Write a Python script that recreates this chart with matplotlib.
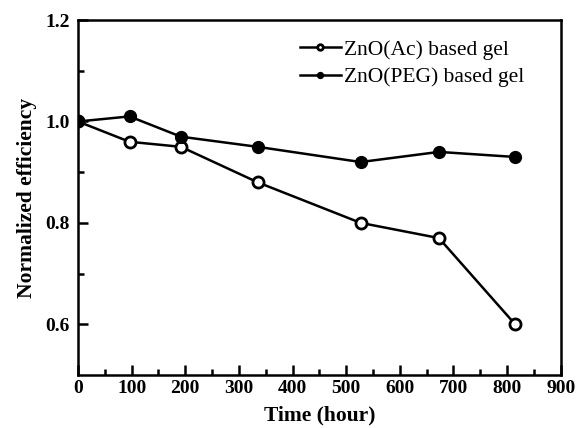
import matplotlib.pyplot as plt

time_ac = [0, 96, 192, 335, 527, 673, 815]
eff_ac = [1.0, 0.96, 0.95, 0.88, 0.80, 0.77, 0.60]
time_peg = [0, 96, 192, 335, 527, 673, 815]
eff_peg = [1.0, 1.01, 0.97, 0.95, 0.92, 0.94, 0.93]

plt.rcParams['font.family'] = ['Liberation Serif', 'DejaVu Serif']

fig = plt.figure(figsize=(5.78, 4.28), dpi=100)
ax = fig.add_axes([0.135, 0.124, 0.835, 0.829])

ax.plot(time_ac, eff_ac, color='k', lw=1.8, marker='o', ms=8,
        mfc='white', mec='k', mew=2, label='ZnO(Ac) based gel', zorder=3)
ax.plot(time_peg, eff_peg, color='k', lw=1.8, marker='o', ms=8.5,
        mfc='k', mec='k', label='ZnO(PEG) based gel', zorder=3)

ax.set_xlim(0, 900)
ax.set_ylim(0.5, 1.2)
ax.set_xticks(range(0, 901, 100))
ax.set_xticks(range(50, 900, 100), minor=True)
ax.set_yticks([0.6, 0.8, 1.0, 1.2])
ax.set_yticks([0.7, 0.9, 1.1], minor=True)
ax.set_yticklabels(['0.6', '0.8', '1.0', '1.2'])
ax.tick_params(direction='in', which='major', length=7, width=1.8, labelsize=14)
ax.tick_params(axis='y', which='major', pad=6)
ax.tick_params(direction='in', which='minor', length=4, width=1.8)
for lab in ax.get_xticklabels() + ax.get_yticklabels():
    lab.set_fontweight('bold')
for s in ax.spines.values():
    s.set_linewidth(1.8)

ax.set_xlabel('Time (hour)', fontsize=15.5, fontweight='bold', labelpad=6)
ax.set_ylabel('Normalized efficiency', fontsize=15.5, fontweight='bold', labelpad=6)

ax.legend(loc='upper right', bbox_to_anchor=(0.965, 1.0), frameon=False,
          fontsize=15.5, markerscale=0.5, handlelength=1.9, handletextpad=0.15,
          labelspacing=0.35)

fig.savefig('out.png', dpi=100)
